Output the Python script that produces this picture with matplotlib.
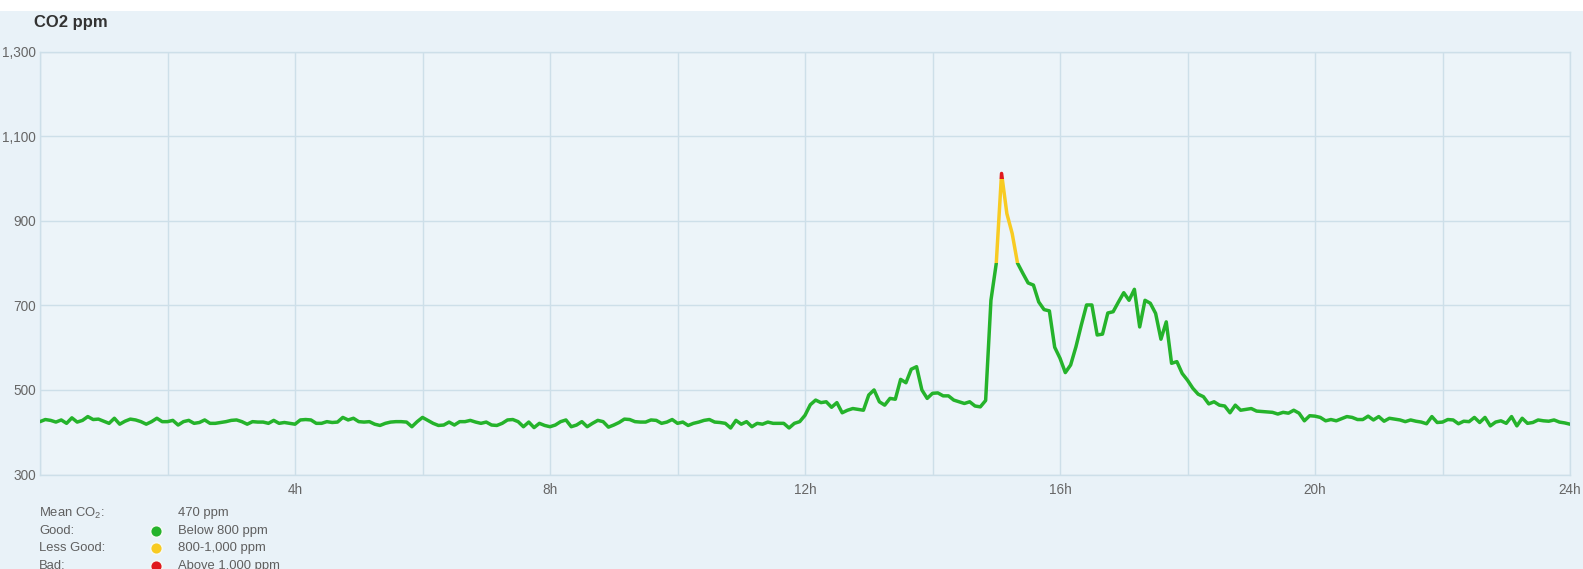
import numpy as np
import matplotlib
matplotlib.use("Agg")
import matplotlib.pyplot as plt
from matplotlib.patches import Rectangle

plt.rcParams['font.family'] = ['Liberation Sans', 'DejaVu Sans']
plt.rcParams['mathtext.fontset'] = 'custom'
plt.rcParams['mathtext.rm'] = 'Liberation Sans'
plt.rcParams['mathtext.it'] = 'Liberation Sans'

# ---------------- data ----------------
title = "CO2 ppm"
interval_minutes = 5

# 00:00 - ~05:35
co2_a = [425, 430, 428, 424, 429, 421, 434, 424, 428, 437, 430, 431, 426, 421, 433,
         419, 426, 431, 429, 425, 419, 425, 433, 425, 425, 428, 417, 425, 428, 421,
         423, 429, 421, 421, 423, 425, 428, 429, 425, 419, 425, 424, 424, 421, 428,
         421, 423, 421, 419, 429, 430, 429, 421, 421, 425, 423, 424, 435, 429, 433,
         425, 424, 425, 419, 416, 421, 424, 425]
# ~05:40 - 11:55
co2_b = [425, 424, 413, 425, 435, 428, 421, 416, 417, 424, 417, 425, 425, 428, 424,
         421, 424, 417, 416, 421, 429, 430, 425, 413, 424, 411, 421, 416, 413, 417,
         425, 429, 413, 417, 425, 413, 421, 428, 425, 412, 417, 423, 431, 430, 425,
         424, 424, 429, 428, 421, 424, 430, 421, 424, 416, 421, 424, 428, 430, 424,
         423, 421, 410, 428, 419, 425, 413, 421, 419, 424, 421, 421, 421, 410, 421,
         425]
# 12:00 - 24:00
co2_c = [440, 465, 476, 470, 472, 459, 470, 446, 452, 456,
         454, 452, 488, 500, 472, 464, 480, 478, 525, 517,
         549, 555, 500, 480, 492, 493, 486, 486, 476, 472,
         468, 472, 462, 460, 475, 712, 799, 1012, 917, 870,
         800, 776, 753, 748, 708, 690, 687, 601, 575, 541,
         559, 602, 653, 701, 701, 630, 632, 682, 685, 708,
         730, 712, 738, 649, 712, 705, 681, 620, 661, 563,
         567, 539, 523, 504, 490, 484, 467, 472, 464, 462,
         446, 464, 452, 454, 456, 450, 449, 448, 447, 443,
         447, 445, 452, 445, 427, 439, 438, 435, 427, 430,
         427, 432, 437, 435, 430, 430, 438, 429, 437, 426,
         433, 431, 429, 425, 429, 426, 424, 420, 437, 423,
         424, 430, 429, 420, 426, 425, 435, 423, 435, 415,
         424, 427, 421, 437, 415, 433, 421, 423, 429, 427,
         426, 429, 424, 422, 419]

zone_bounds = [(300, 800), (800, 1000), (1000, 2000)]
zone_colors = ['#25b32b', '#f8cb22', '#e0191d']
y_ticks = [300, 500, 700, 900, 1100, 1300]
x_grid = list(range(0, 25, 2))
x_label_hours = [4, 8, 12, 16, 20, 24]
mean_co2 = 470
legend_names = ['Good:', 'Less Good:', 'Bad:']
legend_ranges = ['Below 800 ppm', '800-1,000 ppm', 'Above 1,000 ppm']

co2 = np.array(co2_a + co2_b + co2_c, dtype=float)
hours = np.arange(len(co2)) * interval_minutes / 60.0

# ---------------- figure ----------------
W, H = 1583, 569
fig = plt.figure(figsize=(W / 100, H / 100), dpi=100)
bg = '#e9f2f8'
grid_c = '#cddfe9'
fig.patch.set_facecolor(bg)
fig.patches.append(Rectangle((0, 1 - 11 / H), 1, 11 / H, transform=fig.transFigure,
                             facecolor='white', edgecolor='none', zorder=0))

left, right, top, bottom = 40, 1570, 51.7, 474.5
ax = fig.add_axes([left / W, 1 - bottom / H, (right - left) / W, (bottom - top) / H])
ax.set_facecolor('#ecf4f9')
ax.set_xlim(0, 24)
ax.set_ylim(300, 1300)

ax.set_xticks(x_grid)
ax.set_xticklabels([f"{h}h" if h in x_label_hours else "" for h in x_grid])
ax.set_yticks(y_ticks)
ax.set_yticklabels([f"{v:,}" for v in y_ticks])
ax.tick_params(axis='both', length=0, labelsize=9.8, labelcolor='#666666')
ax.tick_params(axis='x', pad=6)
ax.tick_params(axis='y', pad=3)
ax.grid(True, color=grid_c, lw=1.0, zorder=1)
ax.set_axisbelow(True)
for s in ax.spines.values():
    s.set_color(grid_c)
    s.set_linewidth(1.0)

for (lo, hi), c in zip(zone_bounds, zone_colors):
    ln, = ax.plot(hours, co2, color=c, lw=2.5, solid_joinstyle='round',
                  solid_capstyle='round', zorder=3)
    ln.set_clip_path(Rectangle((0, lo), 24, hi - lo, transform=ax.transData))

fig.text(34 / W, 1 - 22.5 / H, title, fontsize=12, fontweight='bold',
         color='#333333', va='center', ha='left')

# ---------------- legend block ----------------
txt_c = '#5f5f5f'
row_y = [513.0, 530.7, 548.4, 566.0]
fs = 9.4
fig.text(39 / W, 1 - row_y[0] / H, "Mean CO$_2$:", fontsize=fs, color=txt_c, va='center')
fig.text(178 / W, 1 - row_y[0] / H, f"{mean_co2} ppm", fontsize=fs, color=txt_c, va='center')
for i, (name, rng, c) in enumerate(zip(legend_names, legend_ranges, zone_colors)):
    y = 1 - row_y[i + 1] / H
    fig.text(39 / W, y, name, fontsize=fs, color=txt_c, va='center')
    fig.text(178 / W, y, rng, fontsize=fs, color=txt_c, va='center')
    fig.add_artist(plt.Line2D([155.7 / W], [y], marker='o', markersize=8.5,
                              markerfacecolor=c, markeredgecolor='#f4f8f4',
                              markeredgewidth=1.2, transform=fig.transFigure))

fig.savefig('out.png', dpi=100, facecolor=fig.get_facecolor())
